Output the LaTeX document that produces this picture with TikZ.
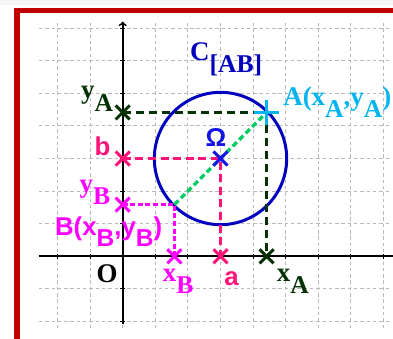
\documentclass[tikz,border=0pt]{standalone}
\usepackage{fontspec}
\setmainfont{Liberation Serif}
\setsansfont{Liberation Sans}
\usepackage{graphicx}
\usepackage{tikz}
\usetikzlibrary{shapes.misc}

\definecolor{framered}{RGB}{192,0,0}
\definecolor{dkgreen}{RGB}{5,50,5}
\definecolor{pinkred}{RGB}{255,20,120}
\definecolor{magB}{RGB}{255,0,255}
\definecolor{diamgreen}{RGB}{0,204,102}
\definecolor{circblue}{RGB}{0,0,190}
\definecolor{omblue}{RGB}{20,20,230}
\definecolor{lcyan}{RGB}{0,180,240}

% indice abaissé
\newcommand{\lw}[1]{\raisebox{-0.45em}{\scalebox{0.95}{#1}}}

\tikzset{
  gridline/.style={gray!55, line width=0.9pt, dash pattern=on 3pt off 2.5pt},
  axisline/.style={black, line width=1.5pt},
  xmk/.style={cross out, draw=#1, line width=2.6pt, minimum size=0.34cm, inner sep=0pt},
  pmk/.style={cross out, rotate=45, draw=#1, line width=2.6pt, minimum size=0.46cm, inner sep=0pt},
  lab/.style={font=\fontsize{23.5}{26}\selectfont\bfseries, inner sep=0pt},
  slab/.style={font=\fontsize{22.5}{26}\selectfont\sffamily\bfseries, inner sep=0pt}
}

\begin{document}
\begin{tikzpicture}[>=to]
            \useasboundingbox (-3.764,-2.506) rectangle (8.291,7.862);
            \fill[gray!8] (-3.764,7.70) rectangle (8.291,7.862);
            % cadre
            \draw[framered, line width=5.2pt] (-3.243,-3) rectangle (9,7.54);
            
            % quadrillage et axes
            \draw[gridline] (-2.57,-2.2) grid (8.2,7.15);
            \draw[axisline] (-2.57,0) -- (8.4,0);
            \draw[axisline, ->] (0,-2.08) -- (0,7.2);
            \foreach \k in {-2,...,8} \draw[black, line width=1pt] (\k,-0.08) -- (\k,0.08);
            \foreach \k in {-2,-1,1,2,...,7} \draw[black, line width=1pt] (-0.08,\k) -- (0.08,\k);
            
            % cercle de diametre [AB]
            \draw[circblue, line width=2.6pt] (3,3) circle (2.03);
            
            % points
            \node[xmk=dkgreen] (yA) at (0,4.414) {};
            \node[xmk=dkgreen] (xA) at (4.414,0) {};
            \node[xmk=pinkred] (b) at (0,3) {};
            \node[xmk=pinkred] (a) at (3,0) {};
            \node[xmk=magB] (yB) at (0,1.586) {};
            \node[xmk=magB] (xB) at (1.586,0) {};
            \coordinate (B) at (1.586,1.586);
            \coordinate (A) at (4.414,4.414);
            \coordinate (Om) at (3,3);
            
            % projections
            \draw[dkgreen, line width=2.6pt, dash pattern=on 7pt off 4.4pt] (yA.center) -- (A) -- (xA.center);
            \draw[pinkred, line width=2.6pt, dash pattern=on 7pt off 4pt] (b.center) -- (Om) -- (a.center);
            \draw[magB, line width=2.2pt, dash pattern=on 4.4pt off 2.2pt] (yB.center) -- (B) -- (xB.center);
            \draw[diamgreen, line width=3pt, dash pattern=on 5pt off 3pt] (B) -- (A);
            \node[xmk=omblue] (OmX) at (Om) {};
            \node[pmk=lcyan] (AX) at (A) {};
            
            % etiquettes
            \node[lab, text=circblue, anchor=base west] (lC) at (2.06,6.02) {C\lw{[AB]}};
            \node[lab, text=lcyan, anchor=base west] (lA) at (4.92,4.64) {A(x\lw{A},y\lw{A})};
            \node[lab, text=dkgreen] (lyA) at (-0.785,4.83) {y\lw{A}};
            \node[lab, text=dkgreen] (lxA) at (5.22,-0.76) {x\lw{A}};
            \node[slab, text=pinkred] (lb) at (-0.62,3.38) {b};
            \node[slab, text=pinkred] (la) at (3.34,-0.70) {a};
            \node[slab, text=omblue] (lOm) at (2.86,3.64) {Ω};
            \node[lab, text=magB] (lyB) at (-0.85,1.96) {y\lw{B}};
            \node[lab, text=magB] (lxB) at (1.70,-0.76) {x\lw{B}};
            \node[slab, text=magB, anchor=base west] (lB) at (-2.08,0.65) {B(x\lw{B},y\lw{B})};
            \node[lab] (lO) at (-0.48,-0.53) {O};
        \end{tikzpicture}
\end{document}
